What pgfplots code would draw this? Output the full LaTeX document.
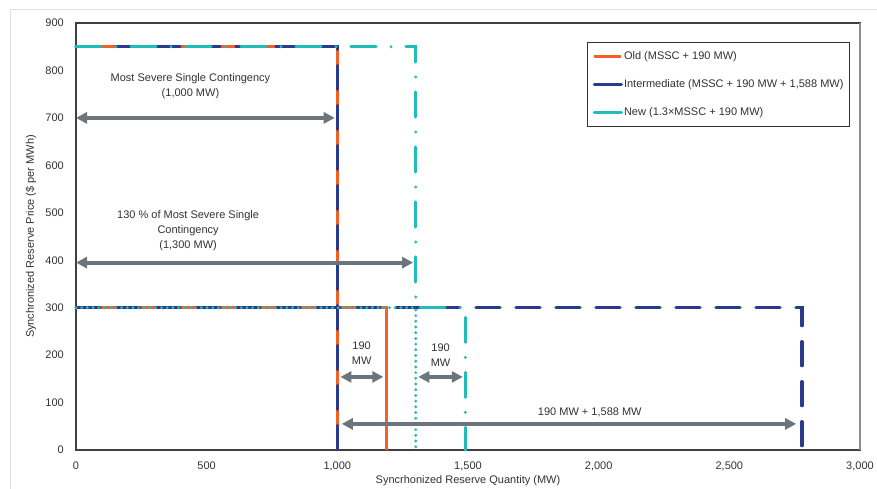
\documentclass[border=0pt]{standalone}
\usepackage{fontspec}
\setmainfont{Liberation Sans}
\usepackage{pgfplots}
\pgfplotsset{compat=1.18}
\usetikzlibrary{arrows.meta}
\definecolor{cOld}{RGB}{242,98,40}
\definecolor{cInt}{RGB}{42,58,140}
\definecolor{cNew}{RGB}{32,190,185}
\definecolor{cArr}{RGB}{108,116,124}
\definecolor{cTxt}{RGB}{50,50,50}
\newcommand{\ff}{\fontsize{11}{15}\selectfont}
\begin{document}
\begin{tikzpicture}[x=1pt,y=1pt]
\begin{axis}[
  at={(0,0)}, anchor=south west,
  scale only axis, width=784pt, height=427pt,
  xmin=0, xmax=3000, ymin=0, ymax=900,
  xtick={0,500,...,3000}, ytick={0,100,...,900},
  major tick length=0pt,
  /pgf/number format/1000 sep={,},
  /pgf/number format/assume math mode=true,
  tick label style={font=\ff, text=cTxt},
  yticklabel style={inner sep=0pt, xshift=-12pt},
  xticklabel style={inner sep=0pt, yshift=-12pt},
  axis line style={draw=black!75, line width=1.3pt},
  xlabel={Syncrhonized Reserve Quantity (MW)},
  ylabel={Synchronized Reserve Price (\$ per MWh)},
  label style={font=\ff, text=cTxt},
  xlabel style={at={([yshift=-31pt]axis description cs:0.5,0)}, anchor=center},
  ylabel style={at={([xshift=-45pt]axis description cs:0,0.5)}, anchor=center, rotate=0},
  legend style={at={(rel axis cs:1,1)}, anchor=north east, xshift=-10pt, yshift=-19pt,
    draw=black!80, line width=1pt, font=\ff, text=cTxt,
    inner xsep=5pt, inner ysep=3pt, row sep=6pt, cells={anchor=west},
    nodes={inner xsep=1pt, inner ysep=6pt, text height=8pt, text depth=2pt}},
  legend image code/.code={\draw[solid, line width=3.3pt] (0pt,0pt) -- (27pt,0pt);},
  clip=false,
]
% Old
\addplot[cOld, line width=3pt] coordinates {(0,850) (1000,850) (1000,0)};
\addlegendentry{Old (MSSC + 190 MW)}
\addplot[cOld, line width=3pt, forget plot] coordinates {(0,300) (1190,300) (1190,0)};
% Intermediate
\addplot[cInt, line width=3.3pt, dash pattern=on 24pt off 16pt, line cap=round] coordinates {(0,850) (1000,850) (1000,0)};
\addlegendentry{Intermediate (MSSC + 190 MW + 1,588 MW)}
\addplot[cInt, line width=3.3pt, dash pattern=on 24pt off 16pt, line cap=round, forget plot] coordinates {(0,300) (2778,300) (2778,0)};
% New
\addplot[cNew, line width=3.2pt, dash pattern=on 25pt off 15pt on 0pt off 15pt, line cap=round] coordinates {(0,850) (1300,850) (1300,300) (1490,300) (1490,0)};
\addlegendentry{New (1.3{\texttimes}MSSC + 190 MW)}
\addplot[cNew, line width=3.2pt, dash pattern=on 0pt off 5.7pt, line cap=round, forget plot] coordinates {(0,300) (1300,300) (1300,0)};
% frame right edge lighter
\draw[black!45, line width=1.3pt] (rel axis cs:1,0) -- (rel axis cs:1,1);
% arrows
\tikzset{arr/.style={draw=cArr, line width=4pt, {Triangle[length=11pt,width=11pt]}-{Triangle[length=11pt,width=11pt]}}}
\draw[arr] (axis cs:0,700) -- (axis cs:990,700);
\draw[arr] (axis cs:0,395) -- (axis cs:1290,395);
\draw[arr] (axis cs:1012,154) -- (axis cs:1176,154);
\draw[arr] (axis cs:1310,154) -- (axis cs:1480,154);
\draw[arr] (axis cs:1017,55) -- (axis cs:2756,55);
% texts
\node[align=center, font=\ff, text=cTxt] at (axis cs:438,766) {Most Severe Single Contingency\\(1,000 MW)};
\node[align=center, font=\ff, text=cTxt] at (axis cs:429,462) {130 \% of Most Severe Single\\Contingency\\(1,300 MW)};
\node[align=center, font=\ff, text=cTxt] at (axis cs:1093,205) {190\\MW};
\node[align=center, font=\ff, text=cTxt] at (axis cs:1395,200) {190\\MW};
\node[align=center, font=\ff, text=cTxt] at (axis cs:1966,79) {190 MW + 1,588 MW};
\end{axis}
\draw[black!12, line width=1pt] (-65,-60) -- (-65,440) -- (820,440);
\pgfresetboundingbox
\path (-76,-39) rectangle (801,450);
\end{tikzpicture}
\end{document}
